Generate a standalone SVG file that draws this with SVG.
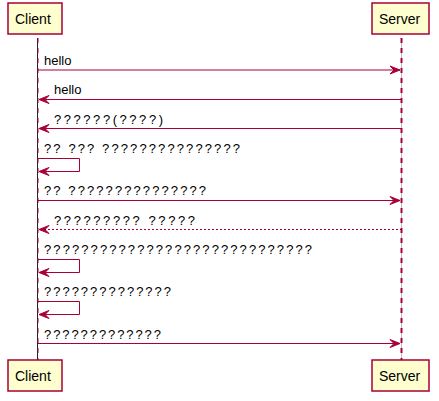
<svg xmlns="http://www.w3.org/2000/svg" width="439" height="401" viewBox="0 0 439 401">
<style>
.box{fill:#FEFECE;stroke:#A80036;stroke-width:1.5}
.pt{font-family:"Liberation Sans",Arial,sans-serif;font-size:14px;fill:#000}
.mt{font-family:"Liberation Sans",Arial,sans-serif;font-size:13px;fill:#000}
.msg{stroke:#A80036;stroke-width:1;fill:none}
.ah{fill:#A80036;stroke:#A80036;stroke-width:1}
</style>
<rect width="439" height="401" fill="#FFFFFF"/>
<g id="lifelines">
<line x1="37.5" y1="38" x2="37.5" y2="360" stroke="#222" stroke-width="1"/>
<line x1="38" y1="38" x2="38" y2="360" stroke="#A80036" stroke-width="1" stroke-dasharray="5,5"/>
<line x1="401.5" y1="38" x2="401.5" y2="360" stroke="#BBBBBB" stroke-width="1"/>
<line x1="401.5" y1="38" x2="401.5" y2="360" stroke="#A80036" stroke-width="2" stroke-dasharray="5,5"/>
</g>
<g id="client-top"><rect class="box" x="8" y="3" width="54" height="31"/><text class="pt" x="15" y="23.5">Client</text></g>
<g id="server-top"><rect class="box" x="372" y="3" width="57" height="31"/><text class="pt" x="379" y="23.5">Server</text></g>
<g id="client-bottom"><rect class="box" x="8" y="360" width="54" height="31"/><text class="pt" x="15" y="381">Client</text></g>
<g id="server-bottom"><rect class="box" x="372" y="360" width="57" height="31"/><text class="pt" x="379" y="381">Server</text></g>
<g id="connectors">
<line class="msg" x1="38" y1="70" x2="400" y2="70"/>
<polygon class="ah" points="390,66 400,70 390,74 394,70"/>
<text class="mt" x="44" y="65">hello</text>

<line class="msg" x1="40" y1="99.5" x2="401.5" y2="99.5"/>
<polygon class="ah" points="49,95.5 39,99.5 49,103.5 45,99.5"/>
<text class="mt" x="54" y="94">hello</text>

<line class="msg" x1="40" y1="128.5" x2="401.5" y2="128.5"/>
<polygon class="ah" points="49,124.5 39,128.5 49,132.5 45,128.5"/>
<text class="mt" x="54" y="124" textLength="109" lengthAdjust="spacing">??????(????)</text>

<polyline class="msg" points="38,158.5 79.5,158.5 79.5,171.5 40,171.5"/>
<polygon class="ah" points="49,167.5 39,171.5 49,175.5 45,171.5"/>
<text class="mt" x="44" y="153" textLength="196" lengthAdjust="spacing">?? ??? ???????????????</text>

<line class="msg" x1="38" y1="200.5" x2="400" y2="200.5"/>
<polygon class="ah" points="390,196.5 400,200.5 390,204.5 394,200.5"/>
<text class="mt" x="44" y="195" textLength="162" lengthAdjust="spacing">?? ???????????????</text>

<line class="msg" x1="40" y1="229.5" x2="401.5" y2="229.5" stroke-dasharray="2,2"/>
<polygon class="ah" points="49,225.5 39,229.5 49,233.5 45,229.5"/>
<text class="mt" x="54" y="224.5" textLength="141" lengthAdjust="spacing">????????? ?????</text>

<polyline class="msg" points="38,259.5 79.5,259.5 79.5,272.5 40,272.5"/>
<polygon class="ah" points="49,268.5 39,272.5 49,276.5 45,272.5"/>
<text class="mt" x="44" y="253.5" textLength="268" lengthAdjust="spacing">?????????????????????????????</text>

<polyline class="msg" points="38,301.5 79.5,301.5 79.5,314.5 40,314.5"/>
<polygon class="ah" points="49,310.5 39,314.5 49,318.5 45,314.5"/>
<text class="mt" x="44" y="296" textLength="127" lengthAdjust="spacing">??????????????</text>

<line class="msg" x1="38" y1="343.5" x2="400" y2="343.5"/>
<polygon class="ah" points="390,339.5 400,343.5 390,347.5 394,343.5"/>
<text class="mt" x="44" y="339" textLength="117" lengthAdjust="spacing">?????????????</text>
</g>
</svg>
